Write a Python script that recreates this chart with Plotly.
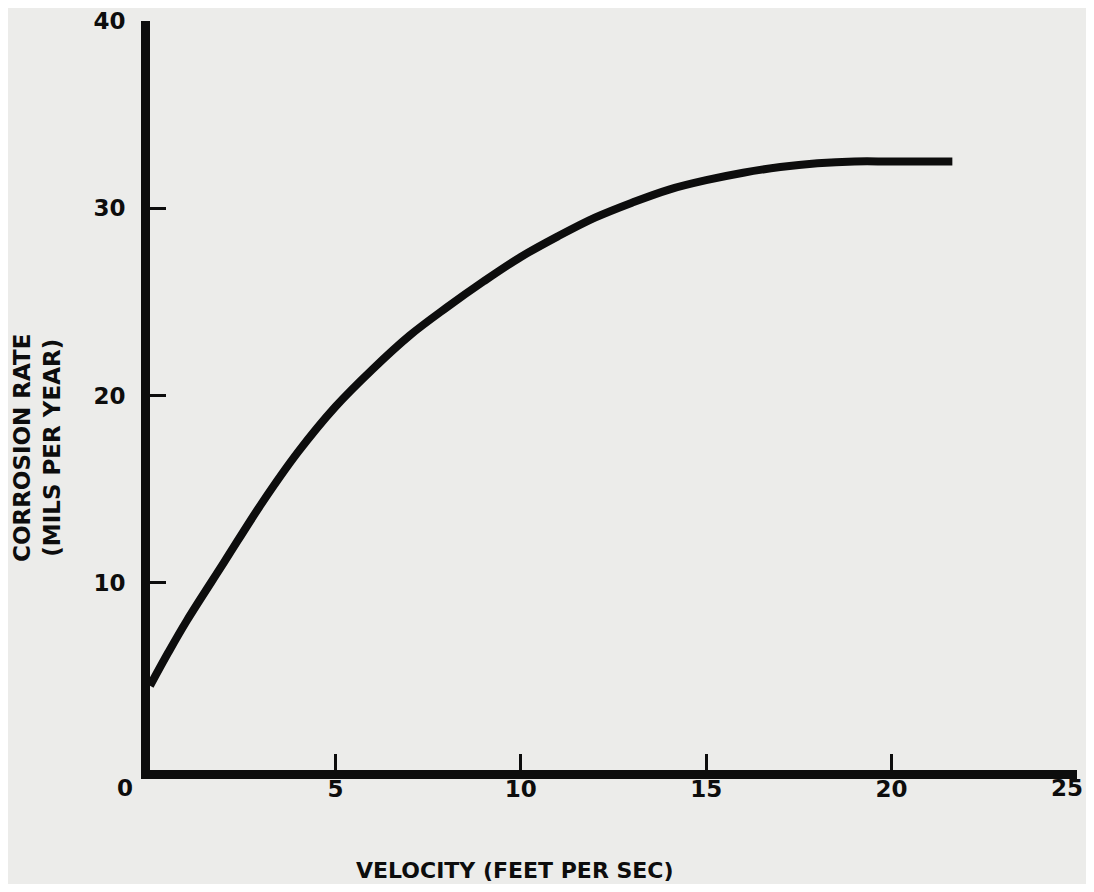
import plotly.graph_objects as go

# Data
velocity = [0.0, 0.5, 1.0, 2.0, 3.0, 4.0, 5.0, 6.0, 7.0, 8.0, 9.0, 10.0,
            11.0, 12.0, 13.0, 14.0, 15.0, 16.0, 17.0, 18.0, 19.0, 20.0, 21.64]
corrosion = [4.5, 6.3, 8.0, 11.1, 14.2, 17.0, 19.4, 21.4, 23.2, 24.7, 26.1, 27.4,
             28.5, 29.5, 30.3, 31.0, 31.5, 31.9, 32.2, 32.4, 32.5, 32.5, 32.5]

x_ticks = [5, 10, 15, 20, 25]
x_tick_labels = ["5", "10", "15", "20", ""]   # "25" drawn below as an annotation
x_last_label = "25"
y_ticks = [10, 20, 30, 40]
y_tick_labels = ["10", "20", "30", "40"]

x_title = "VELOCITY (FEET PER SEC)"
y_title = "CORROSION RATE<br>(MILS PER YEAR)"

BG = "#ececea"
INK = "#0d0d0d"
FONT = "DejaVu Sans"

W, H = 1078, 876
L, R, T, B = 142, 9, 13, 114
PW, PH = W - L - R, H - T - B

fig = go.Figure()
fig.add_trace(go.Scatter(
    x=velocity, y=corrosion, mode="lines",
    line=dict(color=INK, width=8, shape="spline", smoothing=1.0),
    hoverinfo="skip", showlegend=False,
))

fig.update_layout(
    width=W, height=H,
    paper_bgcolor=BG, plot_bgcolor=BG,
    margin=dict(l=L, r=R, t=T, b=B, autoexpand=False),
    font=dict(family=FONT, color=INK, size=23, weight="bold"),
    showlegend=False,
)

tickfont = dict(family=FONT, size=23, color=INK, weight="bold")
fig.update_xaxes(
    range=[0, 25.002], tickvals=x_ticks, ticktext=x_tick_labels,
    showgrid=False, zeroline=False, automargin=False,
    showline=True, linewidth=9, linecolor=INK,
    ticks="inside", ticklen=16, tickwidth=3, tickcolor=INK,
    tickfont=tickfont, ticklabelstandoff=-10, ticklabeloverflow="allow",
)
fig.update_yaxes(
    range=[0, 40.002], tickvals=y_ticks, ticktext=y_tick_labels,
    showgrid=False, zeroline=False, automargin=False,
    showline=True, linewidth=9, linecolor=INK,
    ticks="inside", ticklen=16, tickwidth=3, tickcolor=INK,
    tickfont=tickfont, ticklabelstandoff=11, ticklabeloverflow="allow",
)

# "0" at the origin, offset to the lower left as in the reference
fig.add_annotation(x=0, y=0, xref="x", yref="y", text="0", showarrow=False,
                   xanchor="center", yanchor="middle", xshift=-25, yshift=-18,
                   font=tickfont)
# last x tick label, kept inside the page
fig.add_annotation(x=x_ticks[-1], y=0, xref="x", yref="y", text=x_last_label,
                   showarrow=False, xanchor="right", yanchor="middle",
                   xshift=8, yshift=-18, font=tickfont)

fig.add_annotation(x=(507 - L) / PW, y=(T + PH - 862) / PH, xref="paper", yref="paper",
                   text=x_title, showarrow=False, xanchor="center", yanchor="middle",
                   font=dict(family=FONT, size=22, color=INK, weight="bold"))
fig.add_annotation(x=(29 - L) / PW, y=(T + PH - 440) / PH, xref="paper", yref="paper",
                   text=y_title, showarrow=False, textangle=-90,
                   xanchor="center", yanchor="middle",
                   font=dict(family=FONT, size=23, color=INK, weight="bold"))

fig.write_html("out.html")
